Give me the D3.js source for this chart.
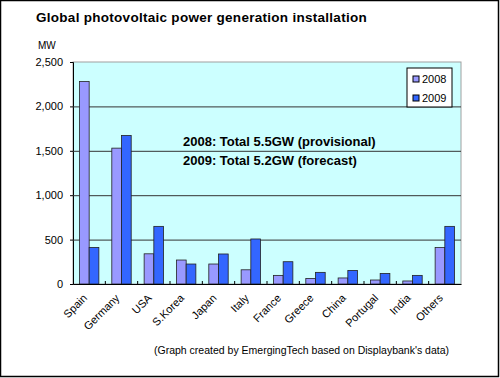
<!DOCTYPE html>
<html>
<head>
<meta charset="utf-8">
<script src="https://cdn.jsdelivr.net/npm/d3@7"></script>
<style>
  body { margin: 0; background: #fff; }
  svg { display: block; font-family: "Liberation Sans", Arial, sans-serif; }
</style>
</head>
<body>
<svg width="500" height="378"></svg>
<script>
//-- data --//
const countries = ["Spain", "Germany", "USA", "S.Korea", "Japan", "Italy", "France", "Greece", "China", "Portugal", "India", "Others"];
const years = ["2008", "2009"];
const mw2008 = [2280, 1530, 340, 270, 225, 160, 97, 63, 68, 45, 34, 410];
const mw2009 = [412, 1673, 649, 225, 338, 507, 251, 131, 153, 119, 97, 649];
const yTicks = [0, 500, 1000, 1500, 2000, 2500];
const notes = ["2008: Total 5.5GW (provisional)", "2009: Total 5.2GW (forecast)"];

const data = countries.map((c, i) => ({country: c, values: [mw2008[i], mw2009[i]]}));

const W = 500, H = 378;
const margin = {top: 62, right: 39, bottom: 94, left: 73};

const svg = d3.select("svg");

// outer frame
svg.append("rect")
    .attr("x", 0.5).attr("y", 0.5)
    .attr("width", W - 2).attr("height", H - 2)
    .attr("fill", "#fff")
    .attr("stroke", "#000")
    .attr("stroke-width", 1.5);

const x0 = d3.scaleBand()
    .domain(countries)
    .range([margin.left, W - margin.right]);

const x1 = d3.scaleBand()
    .domain(years)
    .range([0, 19.4])
    .padding(0);

const y = d3.scaleLinear()
    .domain([0, 2500])
    .range([H - margin.bottom, margin.top]);

const color = d3.scaleOrdinal()
    .domain(years)
    .range(["#9999ff", "#3366ff"]);

// plot background
svg.append("rect")
    .attr("x", margin.left)
    .attr("y", margin.top)
    .attr("width", W - margin.left - margin.right)
    .attr("height", H - margin.top - margin.bottom)
    .attr("fill", "#ccffff")
    .attr("stroke", "#a0a0a0")
    .attr("stroke-width", 1);

// y axis + gridlines
const yAxis = g => g
    .attr("transform", `translate(${margin.left},0)`)
    .call(d3.axisLeft(y).tickValues(yTicks).tickFormat(d3.format(",")).tickSize(3))
    .call(g => g.select(".domain").attr("stroke", "#000"))
    .call(g => g.selectAll(".tick text").attr("font-size", 11).attr("fill", "#000").attr("x", -10))
    .call(g => g.selectAll(".tick line").filter(d => d > 0 && d < 2500).clone()
        .attr("x2", W - margin.left - margin.right)
        .attr("stroke", "#333"));

svg.append("g")
    .attr("font-family", "Liberation Sans, Arial, sans-serif")
    .call(yAxis);

svg.append("text")
    .attr("x", 38).attr("y", 49)
    .attr("font-size", 10)
    .attr("fill", "#000")
    .text("MW");

// bars
const groups = svg.append("g")
    .selectAll("g")
    .data(data)
    .join("g")
    .attr("transform", d => `translate(${x0(d.country) + (x0.bandwidth() - 19.4) / 2},0)`);

groups.selectAll("rect")
    .data(d => d.values.map((v, i) => ({year: years[i], value: v})))
    .join("rect")
    .attr("x", d => x1(d.year))
    .attr("y", d => y(d.value))
    .attr("width", x1.bandwidth())
    .attr("height", d => y(0) - y(d.value))
    .attr("fill", d => color(d.year))
    .attr("stroke", "#222")
    .attr("stroke-width", 0.8);

// x axis
const xAxis = g => g
    .attr("transform", `translate(0,${y(0)})`)
    .call(d3.axisBottom(x0).tickSize(0).tickFormat(d => d))
    .call(g => g.select(".domain").attr("stroke", "#000").attr("stroke-width", 1.2))
    .call(g => g.selectAll(".tick text")
        .attr("font-size", 11)
        .attr("fill", "#000")
        .attr("text-anchor", "end")
        .attr("transform", "translate(-4,12) rotate(-45)")
        .attr("y", 0).attr("dy", "0.35em"));

svg.append("g")
    .attr("font-family", "Liberation Sans, Arial, sans-serif")
    .call(xAxis);

// small category boundary ticks
svg.append("g")
    .selectAll("line")
    .data(countries.slice(1))
    .join("line")
    .attr("x1", d => x0(d)).attr("x2", d => x0(d))
    .attr("y1", y(0)).attr("y2", y(0) - 3)
    .attr("stroke", "#000");

// annotation
svg.append("g")
    .selectAll("text")
    .data(notes)
    .join("text")
    .attr("x", 183)
    .attr("y", (d, i) => 146 + i * 19)
    .attr("font-size", 13)
    .attr("font-weight", "bold")
    .attr("fill", "#000")
    .text(d => d);

// legend
const legend = svg.append("g").attr("transform", "translate(407,68)");
legend.append("rect")
    .attr("width", 45).attr("height", 39)
    .attr("fill", "#fff")
    .attr("stroke", "#000");
legend.selectAll("g")
    .data(years)
    .join("g")
    .attr("transform", (d, i) => `translate(6,${8 + i * 19})`)
    .call(g => g.append("rect")
        .attr("width", 6).attr("height", 6)
        .attr("fill", d => color(d))
        .attr("stroke", "#000"))
    .call(g => g.append("text")
        .attr("x", 9).attr("y", 3).attr("dy", "0.35em")
        .attr("font-size", 11)
        .attr("fill", "#000")
        .text(d => d));

// title
svg.append("text")
    .attr("x", 36).attr("y", 22)
    .attr("font-size", 13.5)
    .attr("font-weight", "bold")
    .attr("letter-spacing", 0.28)
    .attr("fill", "#000")
    .text("Global photovoltaic power generation installation");

// footnote
svg.append("text")
    .attr("x", 154).attr("y", 354)
    .attr("font-size", 10.5)
    .attr("fill", "#000")
    .text("(Graph created by EmergingTech based on Displaybank's data)");
</script>
</body>
</html>
